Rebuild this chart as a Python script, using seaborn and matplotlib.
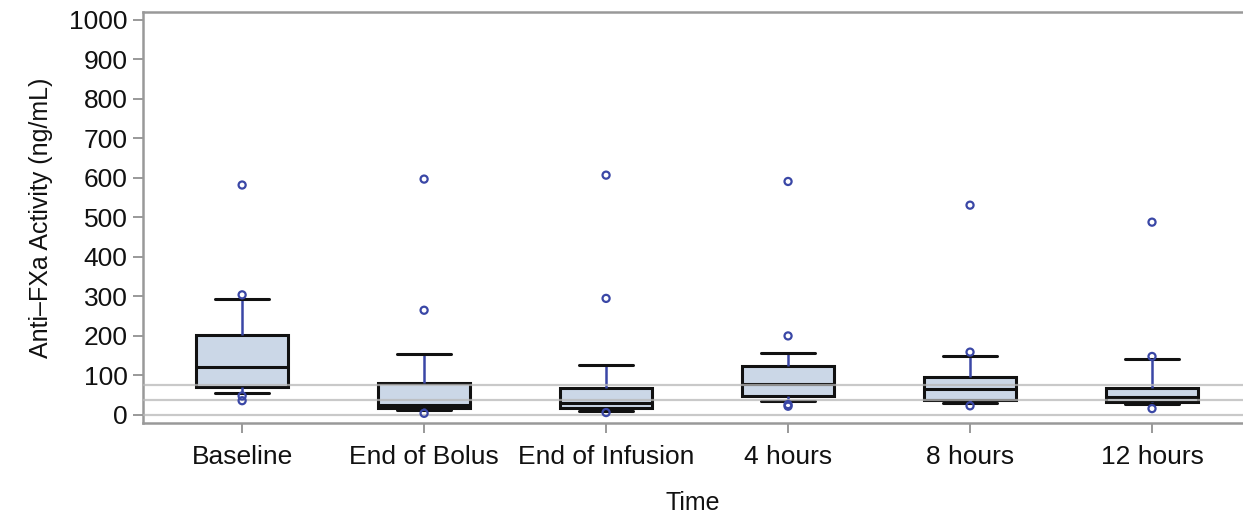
import numpy as np
import pandas as pd
import matplotlib
matplotlib.use("Agg")
import matplotlib.pyplot as plt
import seaborn as sb
from matplotlib import font_manager

times = ["Baseline", "End of Bolus", "End of Infusion", "4 hours", "8 hours", "12 hours"]

# five number summary (whisker ends, quartiles, median)
whisker_low = [56, 13, 11, 35, 30, 28]
q1 = [70, 17, 17, 48, 38, 32]
median = [121, 25, 30, 78, 66, 46]
q3 = [202, 82, 68, 124, 97, 69]
whisker_high = [293, 154, 127, 158, 148, 142]

# the circles drawn on top
outliers = [
    [582, 304, 48, 36],
    [597, 265, 4],
    [607, 295, 6],
    [591, 200, 26, 22],
    [531, 159, 23],
    [488, 148, 16],
]

ref_lines = [0, 38, 75]
yticks = list(range(0, 1001, 100))

if __name__ == '__main__':
    sb.set_style("white")
    names = [f.name for f in font_manager.fontManager.ttflist]
    fam = "Liberation Sans Narrow" if "Liberation Sans Narrow" in names else "Liberation Sans"
    plt.rcParams['font.family'] = [fam, 'DejaVu Sans']

    rows = []
    for t, a, b, c, d, e in zip(times, whisker_low, q1, median, q3, whisker_high):
        for v in (a, b, c, d, e):
            rows.append((t, v))
    df = pd.DataFrame(rows, columns=['time', 'value'])

    out_rows = []
    for i, t in enumerate(times):
        for v in outliers[i]:
            out_rows.append((i, v))
    out_df = pd.DataFrame(out_rows, columns=['pos', 'value'])

    fig = plt.figure(figsize=(12.43, 5.22), dpi=100)
    ax = fig.add_axes([0.115, 0.19, 0.885, 0.787])

    blue = '#3a47a6'
    sb.boxplot(data=df, x='time', y='value', order=times, whis=(0, 100),
               width=0.505, color='#cbd7e7', saturation=1, linecolor='#111111',
               linewidth=2.2, showfliers=False, ax=ax, capwidths=0.3,
               whiskerprops=dict(color=blue, linewidth=1.8),
               capprops=dict(color='#111111', linewidth=2.2),
               medianprops=dict(color='#111111', linewidth=2.2))

    for r in ref_lines:
        ax.axhline(r, color='#b8b8b8', lw=1.6, alpha=0.75, zorder=3)

    sb.scatterplot(data=out_df, x='pos', y='value', marker='o', s=26,
                   facecolor='none', edgecolor=blue, linewidth=1.6, zorder=5, ax=ax)

    ax.set_xlim(-0.545, 5.5)
    ax.set_ylim(-20, 1020)
    ax.set_yticks(yticks)
    ax.set_xticks(range(len(times)))
    ax.set_xticklabels(times)
    ax.tick_params(axis='both', labelsize=19, colors='#888888', labelcolor='#111111',
                   length=7, width=1.2, left=True, bottom=True, direction='out')
    ax.tick_params(axis='x', pad=9)
    ax.tick_params(axis='y', pad=4)
    ax.set_xlabel('Time', fontsize=18, color='#111111', labelpad=16)
    ax.set_ylabel('Anti\u2013FXa Activity (ng/mL)', fontsize=18, color='#111111', labelpad=12)

    for s in ['left', 'bottom', 'top']:
        ax.spines[s].set_color('#999999')
        ax.spines[s].set_linewidth(1.8)
    ax.spines['right'].set_visible(False)

    fig.savefig('out.png', dpi=100)
